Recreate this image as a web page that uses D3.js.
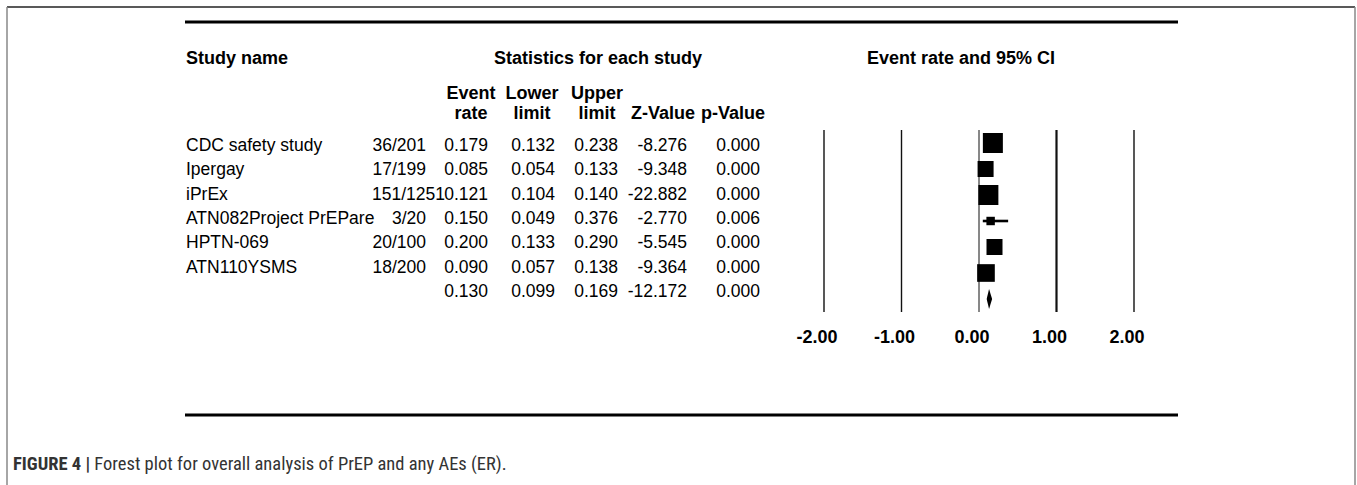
<!DOCTYPE html>
<html>
<head>
<meta charset="utf-8">
<script src="https://cdn.jsdelivr.net/npm/d3@7"></script>
<style>
  body { margin: 0; background: #fff; }
  svg text { font-family: "Liberation Sans", Arial, sans-serif; fill: #000; }
  .hdr { font-weight: bold; }
  .caption { font-family: "Liberation Sans Narrow", "Roboto Condensed", "Arial Narrow", sans-serif; fill: #333; }
</style>
</head>
<body>
<div id="d3"></div>
<script>
// study rows (last row is the pooled estimate)
var studies = ["CDC safety study", "Ipergay", "iPrEx", "ATN082Project PrEPare", "HPTN-069", "ATN110YSMS", ""];
var events = ["36/201", "17/199", "151/1251", "3/20", "20/100", "18/200", ""];
var eventRate = [0.179, 0.085, 0.121, 0.150, 0.200, 0.090, 0.130];
var lowerLimit = [0.132, 0.054, 0.104, 0.049, 0.133, 0.057, 0.099];
var upperLimit = [0.238, 0.133, 0.140, 0.376, 0.290, 0.138, 0.169];
var zValue = [-8.276, -9.348, -22.882, -2.770, -5.545, -9.364, -12.172];
var pValue = [0.000, 0.000, 0.000, 0.006, 0.000, 0.000, 0.000];
// relative weights (%)
var weights = [23.6, 15.1, 23.6, 4.2, 15.1, 18.4];
var axisTicks = [-2, -1, 0, 1, 2];

var svg_width = 1357, svg_height = 485;
var svg = d3.select("#d3").append("svg")
  .attr("width", svg_width)
  .attr("height", svg_height);

// frame of the figure box
svg.append("line").attr("x1", 7).attr("x2", 1355).attr("y1", 7).attr("y2", 7)
  .attr("stroke", "#222").attr("stroke-width", 1.5);
svg.append("line").attr("x1", 7).attr("x2", 7).attr("y1", 7).attr("y2", svg_height)
  .attr("stroke", "#888").attr("stroke-width", 1.5);
svg.append("line").attr("x1", 1355).attr("x2", 1355).attr("y1", 7).attr("y2", svg_height)
  .attr("stroke", "#888").attr("stroke-width", 1.5);

// top and bottom rules
[22, 415].forEach(function(y) {
  svg.append("line").attr("x1", 185).attr("x2", 1178).attr("y1", y).attr("y2", y)
    .attr("stroke", "#000").attr("stroke-width", 3);
});

var rows = d3.range(studies.length);
var yText = d3.scaleLinear().domain([0, rows.length - 1]).range([151, 297]);
var yPlot = d3.scaleLinear().domain([0, rows.length - 1]).range([143, 299]);
var x = d3.scaleLinear().domain([-2, 2]).range([824, 1134]);
var size = d3.scaleSqrt().domain([0, d3.max(weights)]).range([0, 20]);
var fmt = function(v) { return v.toFixed(3); };
var fs = 17.5;

// main headers
svg.append("text").attr("class", "hdr").attr("x", 186).attr("y", 64)
  .attr("font-size", 18).text("Study name");
svg.append("text").attr("class", "hdr").attr("x", 598).attr("y", 64)
  .attr("font-size", 18).attr("text-anchor", "middle").text("Statistics for each study");
svg.append("text").attr("class", "hdr").attr("x", 961).attr("y", 64)
  .attr("font-size", 18).attr("text-anchor", "middle").text("Event rate and 95% CI");

// statistic columns
var columns = [
  {top: "Event", bottom: "rate", center: 471, right: 488, values: eventRate},
  {top: "Lower", bottom: "limit", center: 532, right: 555, values: lowerLimit},
  {top: "Upper", bottom: "limit", center: 597, right: 618, values: upperLimit},
  {top: "", bottom: "Z-Value", center: 663, right: 687, values: zValue},
  {top: "", bottom: "p-Value", center: 733, right: 760, values: pValue}
];

columns.forEach(function(c) {
  svg.append("text").attr("class", "hdr").attr("x", c.center).attr("y", 99)
    .attr("font-size", 18).attr("text-anchor", "middle").text(c.top);
  svg.append("text").attr("class", "hdr").attr("x", c.center).attr("y", 119)
    .attr("font-size", 18).attr("text-anchor", "middle").text(c.bottom);
  svg.append("g").selectAll("text")
    .data(rows).enter().append("text")
    .attr("x", c.right)
    .attr("y", function(i) { return yText(i); })
    .attr("font-size", fs)
    .attr("text-anchor", "end")
    .text(function(i) { return fmt(c.values[i]); });
});

// study names
svg.append("g").selectAll("text")
  .data(rows).enter().append("text")
  .attr("x", 186)
  .attr("y", function(i) { return yText(i); })
  .attr("font-size", fs)
  .text(function(i) { return studies[i]; });

// events column: right aligned, but wide entries spill to the right like the original
var evRight = 426, evWidth = 54;
svg.append("g").selectAll("text")
  .data(rows).enter().append("text")
  .attr("y", function(i) { return yText(i); })
  .attr("font-size", fs)
  .text(function(i) { return events[i]; })
  .each(function() {
    var w = this.getComputedTextLength();
    d3.select(this)
      .attr("x", w > evWidth ? evRight - evWidth : evRight)
      .attr("text-anchor", w > evWidth ? "start" : "end");
  });

// reference lines of the plot
var lineWidth = {"-2": 1.4, "-1": 1.4, "0": 1, "1": 2.2, "2": 1.4};
svg.append("g").selectAll("line")
  .data(axisTicks).enter().append("line")
  .attr("x1", function(d) { return x(d); })
  .attr("x2", function(d) { return x(d); })
  .attr("y1", 130).attr("y2", 312)
  .attr("stroke", "#111")
  .attr("stroke-width", function(d) { return lineWidth[d]; });

svg.append("g").selectAll("text")
  .data(axisTicks).enter().append("text")
  .attr("class", "hdr")
  .attr("x", function(d) { return x(d) - 7; })
  .attr("y", 343)
  .attr("font-size", 18)
  .attr("text-anchor", "middle")
  .text(function(d) { return d.toFixed(2); });

// confidence intervals and weighted squares
var studyRows = d3.range(weights.length);
svg.append("g").selectAll("line")
  .data(studyRows).enter().append("line")
  .attr("x1", function(i) { return x(lowerLimit[i]); })
  .attr("x2", function(i) { return x(upperLimit[i]); })
  .attr("y1", function(i) { return yPlot(i); })
  .attr("y2", function(i) { return yPlot(i); })
  .attr("stroke", "#000").attr("stroke-width", 2.6);

svg.append("g").selectAll("rect")
  .data(studyRows).enter().append("rect")
  .attr("x", function(i) { return x(eventRate[i]) - size(weights[i]) / 2; })
  .attr("y", function(i) { return yPlot(i) - size(weights[i]) / 2; })
  .attr("width", function(i) { return size(weights[i]); })
  .attr("height", function(i) { return size(weights[i]); })
  .attr("fill", "#000");

// pooled diamond
var s = rows.length - 1;
svg.append("path")
  .attr("d", "M" + x(lowerLimit[s]) + "," + yPlot(s)
    + "L" + x(eventRate[s]) + "," + (yPlot(s) - 10)
    + "L" + x(upperLimit[s]) + "," + yPlot(s)
    + "L" + x(eventRate[s]) + "," + (yPlot(s) + 10) + "Z")
  .attr("fill", "#000");

// caption
var cap = svg.append("text").attr("class", "caption").attr("x", 13).attr("y", 470)
  .attr("font-size", 18.5);
cap.append("tspan").attr("font-weight", "bold").text("FIGURE 4 | ");
cap.append("tspan").text("Forest plot for overall analysis of PrEP and any AEs (ER).");
</script>
</body>
</html>
